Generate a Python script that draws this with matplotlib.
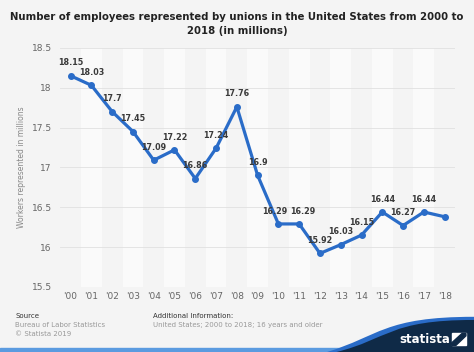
import numpy as np
import matplotlib.pyplot as plt
from matplotlib.patches import PathPatch, Rectangle, Polygon
from matplotlib.path import Path

years = ["'00", "'01", "'02", "'03", "'04", "'05", "'06", "'07", "'08", "'09",
         "'10", "'11", "'12", "'13", "'14", "'15", "'16", "'17", "'18"]
workers = [18.15, 18.03, 17.7, 17.45, 17.09, 17.22, 16.86, 17.24, 17.76, 16.9,
           16.29, 16.29, 15.92, 16.03, 16.15, 16.44, 16.27, 16.44, 16.38]
shown = [True] * 18 + [False]
yticks = [15.5, 16, 16.5, 17, 17.5, 18, 18.5]

bg = '#f4f4f4'
blue = '#2a6cc8'

fig = plt.figure(figsize=(4.74, 3.52), dpi=100, facecolor=bg)
ax = fig.add_axes([0.127, 0.185, 0.833, 0.679])
ax.set_facecolor(bg)

x = np.arange(len(years))
# alternating column bands
for i in x:
    if i % 2 == 1:
        ax.axvspan(i - 0.5, i + 0.5, color='#fafafa', zorder=0, lw=0)
for t in yticks:
    ax.axhline(t, color='#e0e0e0', lw=0.6, zorder=1)

ax.plot(x, workers, color=blue, lw=2.3, marker='o', ms=4, zorder=3,
        solid_joinstyle='round')

# nudge the two touching labels apart a little
nudge = {10: -2.5, 11: 2.5}
for i, (v, s) in enumerate(zip(workers, shown)):
    if not s:
        continue
    ax.annotate(f'{v:g}', (i, v), xytext=(nudge.get(i, 0), 6), textcoords='offset points',
                ha='center', va='bottom', fontsize=5.8, fontweight='bold',
                color='#3a3a3a', zorder=4)

ax.set_xlim(-0.5, len(years) - 0.5)
ax.set_ylim(15.5, 18.5)
ax.set_xticks(x)
ax.set_xticklabels(years)
ax.set_yticks(yticks)
ax.set_yticklabels([f'{t:g}' for t in yticks])
ax.tick_params(length=0, labelsize=6.5, colors='#666666', pad=4)
ax.tick_params(axis='y', pad=6)
for sp in ax.spines.values():
    sp.set_visible(False)
ax.set_ylabel('Workers represented in millions', fontsize=5.5, color='#888888',
              labelpad=4)

fig.text(0.5, 0.965, 'Number of employees represented by unions in the United States from 2000 to\n2018 (in millions)',
         ha='center', va='top', fontsize=7.3, fontweight='bold', color='#222222',
         linespacing=1.5)

# footer
fig.text(0.032, 0.103, 'Source', fontsize=5, color='#333333', va='center')
fig.text(0.032, 0.077, 'Bureau of Labor Statistics', fontsize=5, color='#999999', va='center')
fig.text(0.032, 0.051, '\u00a9 Statista 2019', fontsize=5, color='#999999', va='center')
fig.text(0.323, 0.103, 'Additional Information:', fontsize=5, color='#333333', va='center')
fig.text(0.323, 0.077, 'United States; 2000 to 2018; 16 years and older', fontsize=5,
         color='#999999', va='center')

# bottom strip and logo
fig.patches.append(Rectangle((0, 0), 1, 0.012, transform=fig.transFigure,
                             color='#5b9be0', zorder=1))
codes = [Path.MOVETO, Path.CURVE4, Path.CURVE4, Path.CURVE4, Path.LINETO, Path.CLOSEPOLY]
hl = [(0.69, 0.0), (0.80, 0.045), (0.81, 0.10), (1.0, 0.10), (1.0, 0.0), (0.69, 0.0)]
dk = [(0.71, 0.0), (0.82, 0.037), (0.82, 0.091), (1.0, 0.091), (1.0, 0.0), (0.71, 0.0)]
fig.patches.append(PathPatch(Path(hl, codes), transform=fig.transFigure,
                             color='#2a6cc8', lw=0, zorder=2))
fig.patches.append(PathPatch(Path(dk, codes), transform=fig.transFigure,
                             color='#0f2a47', lw=0, zorder=3))
fig.text(0.843, 0.036, 'statista', fontsize=8.5, fontweight='bold', color='white',
         va='center', ha='left', zorder=5)
fig.patches.append(Rectangle((0.953, 0.019), 0.03, 0.034, transform=fig.transFigure,
                             color='white', zorder=4))
fig.patches.append(Polygon([(0.953, 0.019), (0.962, 0.019), (0.983, 0.046), (0.983, 0.053),
                            (0.975, 0.053), (0.953, 0.026)], closed=True,
                           transform=fig.transFigure, color='#0f2a47', zorder=5))

fig.savefig('out.png', dpi=100, facecolor=bg)
